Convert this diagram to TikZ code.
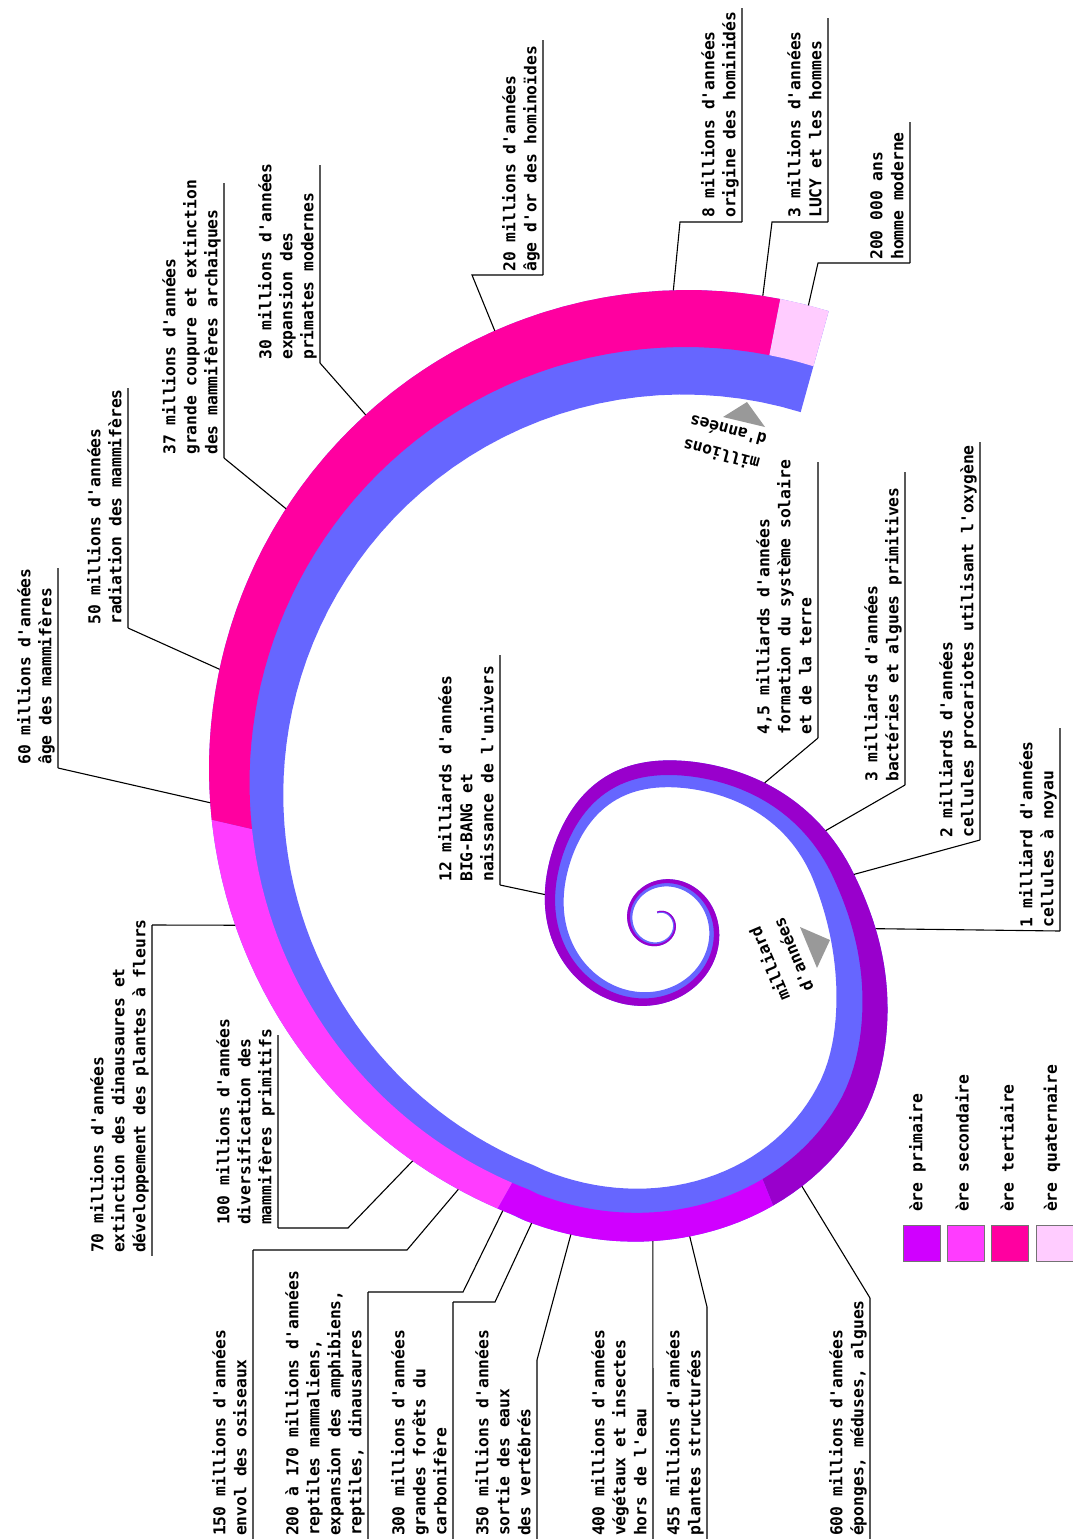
\documentclass[tikz,border=0pt]{standalone}
\usepackage{fontspec}
\newfontfamily\labfam{DejaVu Sans Mono}
\newcommand\labfont{\labfam\bfseries\fontsize{16.3}{21}\selectfont}
\definecolor{cblue}{HTML}{6666FF}
\definecolor{cdark}{HTML}{9900CC}
\definecolor{cprim}{HTML}{D000FF}
\definecolor{csec}{HTML}{FF3CFF}
\definecolor{cter}{HTML}{FF00A0}
\definecolor{cquat}{HTML}{FFCCFF}
\definecolor{ctri}{HTML}{999999}
\pgfmathdeclarefunction{rout}{1}{%
  \begingroup
    \pgfmathparse{#1}\edef\spT{\pgfmathresult}%
    \ifdim\spT pt<45pt
      \pgfmathparse{min(max((\spT+15)/60,0),1)}\edef\spS{\pgfmathresult}%
      \pgfmathparse{(\spT+110)/30}\edef\spA{\pgfmathresult}%
      \pgfmathparse{(\spT-50)/20}\edef\spB{\pgfmathresult}%
      \pgfmathparse{323.8*exp(0.003544*(\spT-91))*(0.90+0.10*\spS*\spS*(3-2*\spS)+0.08*exp(-min(\spA*\spA,9))+0.03*exp(-min(\spB*\spB,9)))}%
    \else
      \ifdim\spT pt<115pt
        \pgfmathparse{282.9+56.4*(1-exp(-(\spT-45)/47))}%
      \else
        \pgfmathparse{0.29*cos(\spT)-1.54*sin(\spT)}\edef\spU{\pgfmathresult}%
        \pgfmathparse{100*(\spU+sqrt(\spU*\spU+20.4884))}%
      \fi
    \fi
    \pgfmathsmuggle\pgfmathresult
  \endgroup}
\pgfmathdeclarefunction{fin}{1}{%
  \begingroup
    \pgfmathparse{(#1-15)/40}\edef\spA{\pgfmathresult}%
    \pgfmathparse{0.835-0.06*exp(-min(\spA*\spA,9))}%
    \pgfmathsmuggle\pgfmathresult
  \endgroup}
\pgfmathdeclarefunction{fmid}{1}{%
  \begingroup
    \pgfmathparse{(#1-15)/40}\edef\spA{\pgfmathresult}%
    \pgfmathparse{0.91-0.02*exp(-min(\spA*\spA,9))}%
    \pgfmathsmuggle\pgfmathresult
  \endgroup}
\begin{document}
\begin{tikzpicture}[x=1pt,y=-1pt,
  lab/.style={rotate=90,anchor=south west,align=left,inner sep=0pt,font=\labfont,execute at end node={\vphantom{gpq}}},
  smalltxt/.style={inner sep=0pt,font=\labfont},
  legtxt/.style={rotate=90,anchor=west,inner sep=0pt,font=\labfont},
  rul/.style={draw=black!65,line width=1.5pt},
  con/.style={draw=black,line width=1.1pt},
  legbox/.style={draw=black!55,line width=0.8pt,minimum width=37pt,minimum height=36pt,inner sep=0pt},
  tri/.style={fill=ctri}]
\fill[white] (0,0) rectangle (1072,1539);
\useasboundingbox (0,0) rectangle (1072,1539);

% ---------------- spiral ----------------
\begin{scope}[shift={(659,923)}]
  \fill[cblue] plot[domain=-820:285.5,samples=500,variable=\t] (\t:{rout(\t)})
     -- plot[domain=-820:285.5,samples=500,variable=\t] ({-534.5-\t}:{fin(-534.5-\t)*rout(-534.5-\t)}) -- cycle;
  \fill[cdark] plot[domain=-820:68,samples=400,variable=\t] (\t:{rout(\t)})
     -- plot[domain=-820:68,samples=400,variable=\t] ({-752-\t}:{fmid(-752-\t)*rout(-752-\t)}) -- cycle;
  \fill[cprim] plot[domain=68:119.5,samples=30,variable=\t] (\t:{rout(\t)})
     -- plot[domain=68:119.5,samples=30,variable=\t] ({187.5-\t}:{fmid(187.5-\t)*rout(187.5-\t)}) -- cycle;
  \fill[csec] plot[domain=119.5:193,samples=40,variable=\t] (\t:{rout(\t)})
     -- plot[domain=119.5:193,samples=40,variable=\t] ({312.5-\t}:{fmid(312.5-\t)*rout(312.5-\t)}) -- cycle;
  \fill[cter] plot[domain=193:281,samples=50,variable=\t] (\t:{rout(\t)})
     -- plot[domain=193:281,samples=50,variable=\t] ({474-\t}:{fmid(474-\t)*rout(474-\t)}) -- cycle;
  \fill[cquat] plot[domain=281:285.5,samples=4,variable=\t] (\t:{rout(\t)})
     -- plot[domain=281:285.5,samples=4,variable=\t] ({566.5-\t}:{fmid(566.5-\t)*rout(566.5-\t)}) -- cycle;
  % anchor points on the spiral
  \coordinate (s60) at (195:{rout(195)});
  \coordinate (s50) at (210:{rout(210)});
  \coordinate (s37) at (228:{rout(228)});
  \coordinate (s30) at (240:{rout(240)});
  \coordinate (s20) at (254.5:{rout(254.5)});
  \coordinate (s8) at (271.3:{rout(271.3)});
  \coordinate (s3) at (279.4:{rout(279.4)});
  \coordinate (s200k) at (283.6:{rout(283.6)});
  \coordinate (s45) at (-53:{rout(-53)});
  \coordinate (s3G) at (-29:{rout(-29)});
  \coordinate (s2G) at (-14:{rout(-14)});
  \coordinate (s1G) at (1.5:{rout(1.5)});
  \coordinate (sBB) at (-166:{rout(-166)});
  \coordinate (s70) at (179.7:{rout(179.7)});
  \coordinate (s100) at (136:{rout(136)});
  \coordinate (s150) at (127:{rout(127)});
  \coordinate (s200) at (118.5:{rout(118.5)});
  \coordinate (s300) at (113:{rout(113)});
  \coordinate (s350) at (105.8:{rout(105.8)});
  \coordinate (s400) at (91.1:{rout(91.1)});
  \coordinate (s455) at (84.4:{rout(84.4)});
  \coordinate (s600) at (61.5:{rout(61.5)});
\end{scope}

% scale markers
\fill[tri] (800,927) -- (830,940) -- (817,968) -- cycle;
\fill[tri] (723,417) -- (747,402) -- (765,427) -- cycle;
\node[smalltxt,rotate=113] (mil1a) at (769,964) {milliard};
\node[smalltxt,rotate=113] (mil1b) at (793,955) {d'années};
\node[smalltxt,rotate=165] (mil2a) at (721,455) {millions};
\node[smalltxt,rotate=165] (mil2b) at (728,431) {d'années};

% ---------------- top labels ----------------
\node[lab] (t60) at (55,765) {60 millions d'années\\âge des mammifères};
\coordinate (r60a) at (58,568); \coordinate (r60b) at (58,768);
\draw[rul] (r60a) -- (r60b); \draw[con] (r60b) -- (s60);

\node[lab] (t50) at (125,625) {50 millions d'années\\radiation des mammifères};
\coordinate (r50a) at (128,388); \coordinate (r50b) at (128,628);
\draw[rul] (r50a) -- (r50b); \draw[con] (r50b) -- (s50);

\node[lab] (t37) at (221,455) {37 millions d'années\\grande coupure et extinction\\des mammifères archaiques};
\coordinate (r37a) at (224,183); \coordinate (r37b) at (224,458);
\draw[rul] (r37a) -- (r37b); \draw[con] (r37b) -- (s37);

\node[lab] (t30) at (317,360) {30 millions d'années\\expansion des\\primates modernes};
\coordinate (r30a) at (320,165); \coordinate (r30b) at (320,363);
\draw[rul] (r30a) -- (r30b); \draw[con] (r30b) -- (s30);

\node[lab] (t20) at (540,272) {20 millions d'années\\âge d'or des hominoïdes};
\coordinate (r20a) at (543,40); \coordinate (r20b) at (543,275); \coordinate (b20) at (472,275);
\draw[rul] (r20a) -- (r20b); \draw[con] (r20b) -- (b20) -- (s20);

\node[lab] (t8) at (739,218) {8 millions d'années\\origine des hominidés};
\coordinate (r8a) at (742,8); \coordinate (r8b) at (742,222); \coordinate (b8) at (680,222);
\draw[rul] (r8a) -- (r8b); \draw[con] (r8b) -- (b8) -- (s8);

\node[lab] (t3) at (825,218) {3 millions d'années\\LUCY et les hommes};
\coordinate (r3a) at (828,18); \coordinate (r3b) at (828,222); \coordinate (b3) at (772,222);
\draw[rul] (r3a) -- (r3b); \draw[con] (r3b) -- (b3) -- (s3);

\node[lab] (t200k) at (907,260) {200 000 ans\\homme moderne};
\coordinate (r200ka) at (910,122); \coordinate (r200kb) at (910,263); \coordinate (b200k) at (818,263);
\draw[rul] (r200ka) -- (r200kb); \draw[con] (r200kb) -- (b200k) -- (s200k);

% ---------------- right labels ----------------
\node[lab] (t45) at (815,735) {4,5 milliards d'années\\formation du système solaire\\et de la terre};
\coordinate (r45a) at (818,462); \coordinate (r45b) at (818,738);
\draw[rul] (r45a) -- (r45b); \draw[con] (r45b) -- (s45);

\node[lab] (t3G) at (902,782) {3 milliards d'années\\bactéries et algues primitives};
\coordinate (r3Ga) at (905,472); \coordinate (r3Gb) at (905,785);
\draw[rul] (r3Ga) -- (r3Gb); \draw[con] (r3Gb) -- (s3G);

\node[lab] (t2G) at (977,838) {2 milliards d'années\\cellules procariotes utilisant l'oxygène};
\coordinate (r2Ga) at (980,442); \coordinate (r2Gb) at (980,840);
\draw[rul] (r2Ga) -- (r2Gb); \draw[con] (r2Gb) -- (s2G);

\node[lab] (t1G) at (1057,928) {1 milliard d'années\\cellules à noyau};
\coordinate (r1Ga) at (1060,728); \coordinate (r1Gb) at (1060,931);
\draw[rul] (r1Ga) -- (r1Gb); \draw[con] (r1Gb) -- (s1G);

\node[lab] (tBB) at (497,882) {12 milliards d'années\\BIG-BANG et\\naissance de l'univers};
\coordinate (rBBa) at (500,655); \coordinate (rBBb) at (500,885);
\draw[rul] (rBBa) -- (rBBb); \draw[con] (rBBb) -- (sBB);

% ---------------- bottom labels ----------------
\node[lab] (t70) at (149,1253) {70 millions d'années\\extinction des dinausaures et\\développement des plantes à fleurs};
\coordinate (r70a) at (152,925); \coordinate (r70b) at (152,1256);
\draw[rul] (r70a) -- (r70b); \draw[con] (r70a) -- (s70);

\node[lab] (t100) at (275,1225) {100 millions d'années\\diversification des\\mammifères primitifs};
\coordinate (r100a) at (278,1035); \coordinate (r100b) at (278,1228); \coordinate (b100) at (348,1228);
\draw[rul] (r100a) -- (r100b); \draw[con] (r100b) -- (b100) -- (s100);

\node[lab] (t150) at (250,1536) {150 millions d'années\\envol des osiseaux};
\coordinate (r150a) at (253,1250); \coordinate (r150b) at (253,1539); \coordinate (b150) at (407,1250);
\draw[rul] (r150a) -- (r150b); \draw[con] (r150a) -- (b150) -- (s150);

\node[lab] (t200) at (365,1536) {200 à 170 millions d'années\\reptiles mammaliens,\\expansion des amphibiens,\\reptiles, dinausaures};
\coordinate (r200a) at (368,1292); \coordinate (r200b) at (368,1539); \coordinate (b200) at (463,1292);
\draw[rul] (r200a) -- (r200b); \draw[con] (r200a) -- (b200) -- (s200);

\node[lab] (t300) at (450,1536) {300 millions d'années\\grandes forêts du\\carbonifère};
\coordinate (r300a) at (453,1302); \coordinate (r300b) at (453,1539); \coordinate (b300) at (495,1302);
\draw[rul] (r300a) -- (r300b); \draw[con] (r300a) -- (b300) -- (s300);

\node[lab] (t350) at (534,1536) {350 millions d'années\\sortie des eaux\\des vertébrés};
\coordinate (r350a) at (537,1360); \coordinate (r350b) at (537,1539);
\draw[rul] (r350a) -- (r350b); \draw[con] (r350a) -- (s350);

\node[lab] (t400) at (650,1536) {400 millions d'années\\végétaux et insectes\\hors de l'eau};
\coordinate (r400b) at (653,1539);
\draw[con] (s400) -- (r400b);

\node[lab] (t455) at (704,1536) {455 millions d'années\\plantes structurées};
\coordinate (r455a) at (707,1307); \coordinate (r455b) at (707,1539);
\draw[rul] (r455a) -- (r455b); \draw[con] (r455a) -- (s455);

\node[lab] (t600) at (867,1536) {600 millions d'années\\éponges, méduses, algues};
\coordinate (r600a) at (870,1298); \coordinate (r600b) at (870,1539);
\draw[rul] (r600a) -- (r600b); \draw[con] (r600a) -- (s600);

% ---------------- legend ----------------
\node[legbox,fill=cprim] (lb1) at (921.5,1243) {};
\node[legbox,fill=csec] (lb2) at (965.5,1243) {};
\node[legbox,fill=cter] (lb3) at (1009.5,1243) {};
\node[legbox,fill=cquat] (lb4) at (1054.5,1243) {};
\node[legtxt] (ll1) at (917.5,1212) {ère primaire};
\node[legtxt] (ll2) at (962,1212) {ère secondaire};
\node[legtxt] (ll3) at (1007,1212) {ère tertiaire};
\node[legtxt] (ll4) at (1052,1212) {ère quaternaire};
\end{tikzpicture}
\end{document}
